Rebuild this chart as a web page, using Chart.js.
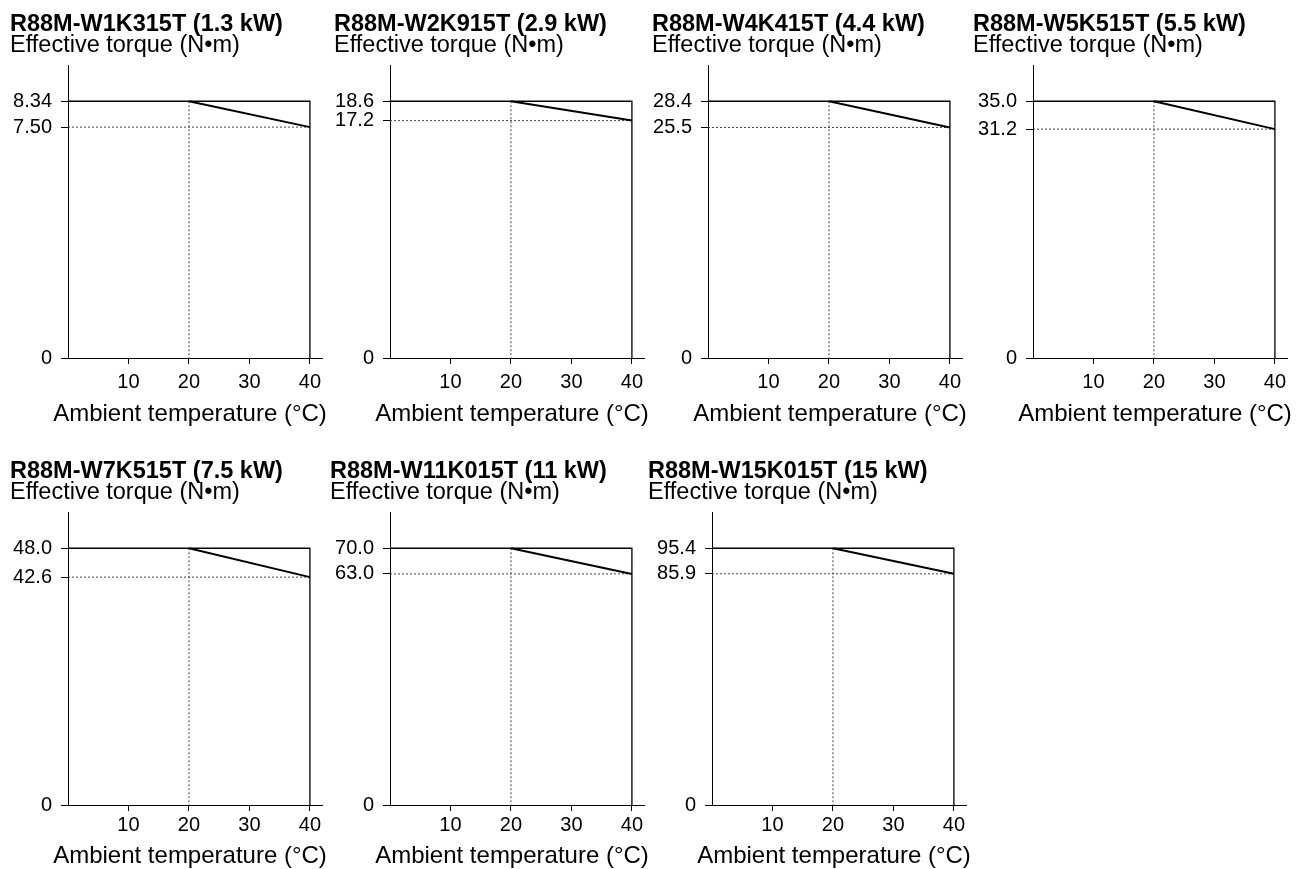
<!DOCTYPE html>
<html>
<head>
<meta charset="utf-8">
<title>Servomotor torque derating</title>
<script src="https://cdn.jsdelivr.net/npm/chart.js@4.4.1/dist/chart.umd.min.js"></script>
<style>
  body { margin: 0; background: #fff; }
  #page { position: relative; width: 1297px; height: 869px; overflow: hidden; }
  #page canvas { position: absolute; }
</style>
</head>
<body>
<div id="page"></div>
<script>
// Motor models and ratings
const models = ['R88M-W1K315T', 'R88M-W2K915T', 'R88M-W4K415T', 'R88M-W5K515T',
                'R88M-W7K515T', 'R88M-W11K015T', 'R88M-W15K015T'];
const ratings = ['1.3 kW', '2.9 kW', '4.4 kW', '5.5 kW', '7.5 kW', '11 kW', '15 kW'];

// Effective torque (N•m): rated up to 20 °C, derated value at 40 °C
const ratedTorque = [8.34, 18.6, 28.4, 35.0, 48.0, 70.0, 95.4];
const deratedTorque = [7.50, 17.2, 25.5, 31.2, 42.6, 63.0, 85.9];
const ratedLabels = ['8.34', '18.6', '28.4', '35.0', '48.0', '70.0', '95.4'];
const deratedLabels = ['7.50', '17.2', '25.5', '31.2', '42.6', '63.0', '85.9'];

// Temperature axis (°C)
const kneeTemp = 20;
const maxTemp = 40;
const tempTicks = [10, 20, 30, 40];

// Page layout of the panels
const panelLeft = [10, 339, 658, 973, 10, 330, 648];
const axisLeft = [68, 390, 708, 1033, 68, 390, 712];
const rowTop = [0, 447];
const rowHeight = [432, 422];
const captionDy = [56, 51];

Chart.defaults.font.family = '"Liberation Sans", Arial, Helvetica, sans-serif';
Chart.defaults.color = '#000';

// x axis caption, drawn under the tick labels without being squeezed
// to the width of the plot area
const axisCaption = {
    id: 'axisCaption',
    afterDraw(chart, args, opts) {
        const { ctx, chartArea } = chart;
        ctx.save();
        ctx.font = Chart.helpers.toFont(opts.font).string;
        ctx.fillStyle = opts.color;
        ctx.textAlign = 'center';
        ctx.textBaseline = 'middle';
        ctx.fillText(opts.text, (chartArea.left + chartArea.right) / 2 + opts.dx, chartArea.bottom + opts.dy);
        ctx.restore();
    }
};

const page = document.getElementById('page');

function makePanel(i) {
    const row = i < 4 ? 0 : 1;
    const yWidth = Math.max(axisLeft[i] - panelLeft[i], 56);
    const canvasLeft = axisLeft[i] - yWidth;
    const canvasW = yWidth + 254 + 24;
    const canvasH = rowHeight[row];

    const canvas = document.createElement('canvas');
    canvas.width = canvasW;
    canvas.height = canvasH;
    canvas.style.left = canvasLeft + 'px';
    canvas.style.top = rowTop[row] + 'px';
    page.appendChild(canvas);

    const top = ratedTorque[i];
    const low = deratedTorque[i];
    const yLabels = ['0', deratedLabels[i], ratedLabels[i]];

    const solid = { showLine: true, pointRadius: 0, borderColor: '#000', fill: false, clip: false };
    const dotted = { showLine: true, pointRadius: 0, borderColor: '#444', borderWidth: 1,
                     borderDash: [2, 2], fill: false, clip: false };

    new Chart(canvas, {
        type: 'scatter',
        plugins: [axisCaption],
        data: {
            datasets: [
                // derating slope
                { ...solid, borderWidth: 2, data: [{ x: kneeTemp, y: top }, { x: maxTemp, y: low }] },
                // rated torque frame
                { ...solid, borderWidth: 1.3, data: [{ x: 0, y: top }, { x: maxTemp, y: top }, { x: maxTemp, y: 0 }] },
                // guide lines
                { ...dotted, data: [{ x: 0, y: low }, { x: maxTemp, y: low }] },
                { ...dotted, data: [{ x: kneeTemp, y: top }, { x: kneeTemp, y: 0 }] }
            ]
        },
        options: {
            responsive: false,
            animation: false,
            events: [],
            layout: { padding: { left: 0, right: 24, top: 0, bottom: 0 } },
            plugins: {
                legend: { display: false },
                tooltip: { enabled: false },
                title: {
                    display: true,
                    text: models[i] + ' (' + ratings[i] + ')',
                    align: 'start',
                    color: '#000',
                    font: { size: 23.5, weight: 'bold', lineHeight: 0.9 },
                    padding: { top: 13.5, bottom: 0 }
                },
                subtitle: {
                    display: true,
                    text: 'Effective torque (N\u2022m)',
                    align: 'start',
                    color: '#000',
                    font: { size: 23.5, weight: 'normal', lineHeight: 0.9 },
                    padding: { top: 0, bottom: 9.5 }
                },
                axisCaption: {
                    text: 'Ambient temperature (\u00B0C)',
                    color: '#000',
                    font: { family: '"Liberation Sans", Arial, Helvetica, sans-serif', size: 24 },
                    dx: -5,
                    dy: captionDy[row]
                }
            },
            scales: {
                x: {
                    type: 'linear',
                    min: 0,
                    max: 42,
                    afterBuildTicks: function(scale) {
                        scale.ticks = tempTicks.map(v => ({ value: v }));
                    },
                    afterFit: function(scale) {
                        scale.height = canvasH - 358;
                    },
                    grid: { drawOnChartArea: false, tickLength: 6, color: '#000', lineWidth: 1 },
                    border: { color: '#000', width: 1 },
                    ticks: {
                        autoSkip: false,
                        maxRotation: 0,
                        padding: row === 0 ? 8 : 4,
                        color: '#000',
                        font: { size: 20, lineHeight: 1 }
                    }
                },
                y: {
                    type: 'linear',
                    min: 0,
                    max: top * 1.14,
                    afterBuildTicks: function(scale) {
                        scale.ticks = [0, low, top].map(v => ({ value: v }));
                    },
                    afterFit: function(scale) {
                        scale.width = yWidth;
                    },
                    grid: { drawOnChartArea: false, tickLength: 7, color: '#000', lineWidth: 1 },
                    border: { color: '#000', width: 1 },
                    ticks: {
                        autoSkip: false,
                        padding: 9,
                        color: '#000',
                        font: { size: 20, lineHeight: 1 },
                        callback: function(value, index) {
                            return yLabels[index];
                        }
                    }
                }
            }
        }
    });
}

for (let i = 0; i < models.length; i++) {
    makePanel(i);
}
</script>
</body>
</html>
